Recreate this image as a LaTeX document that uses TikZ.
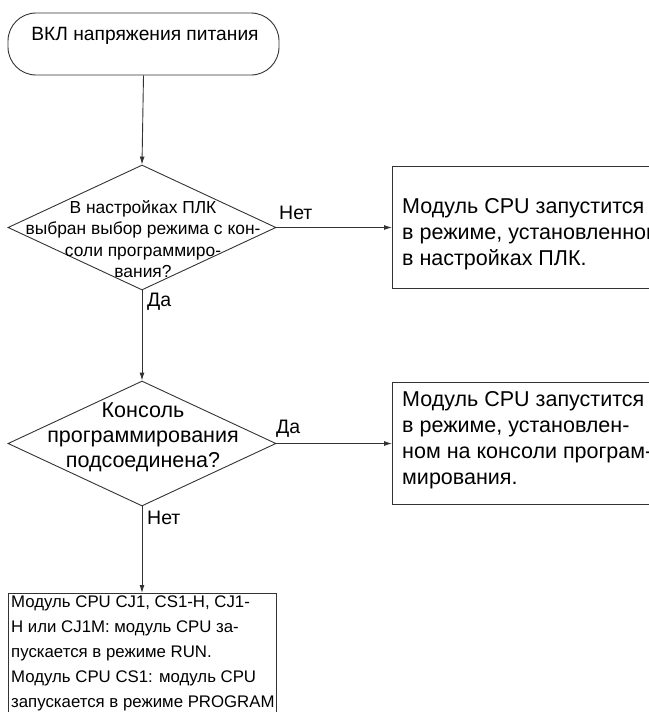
\documentclass[tikz,border=0pt]{standalone}
\usepackage{fontspec}
\setmainfont{Liberation Sans}
\usetikzlibrary{shapes.geometric,arrows.meta}
\tikzset{
  ln/.style={draw=black!80, line width=0.9pt},
  arr/.style={ln, -{Latex[length=8pt,width=5pt]}},
  term/.style={ln, rectangle, rounded corners=28pt, minimum width=271pt, minimum height=62pt, inner sep=0pt},
  decision/.style={ln, diamond, minimum width=268pt, minimum height=125pt, inner sep=0pt},
  boxr/.style={ln, rectangle, minimum width=270pt, inner sep=0pt, anchor=north west},
  txt/.style={inner sep=0pt, align=left},
  lbl/.style={inner sep=0pt, font=\fontsize{19.5}{22}\selectfont, anchor=west},
}
\begin{document}
\begin{tikzpicture}[x=1pt,y=-1pt]
\useasboundingbox (0,0) rectangle (648,712);
% start
\node[term] (s) at (143.5,44) {};
\node[txt, font=\fontsize{19.2}{22}\selectfont] (st) at (145,36) {ВКЛ напряжения питания};
% decision 1
\node[decision] (d1) at (142,227.5) {};
\node[txt, align=center, font=\fontsize{17.4}{21.5}\selectfont] (d1t) at (143,239) {В настройках ПЛК\\выбран выбор режима с кон-\\соли программиро-\\вания?};
% box 1
\node[boxr, minimum height=122pt] (b1) at (392,166) {};
\node[txt, anchor=west, font=\fontsize{21.5}{26}\selectfont] (b1t) at (402,234) {Модуль CPU запустится\\в режиме, установленном\\в настройках ПЛК.};
% decision 2
\node[decision] (d2) at (142,443.5) {};
\node[txt, align=center, font=\fontsize{21.5}{25}\selectfont] (d2t) at (143,437) {Консоль\\программирования\\подсоединена?};
% box 2
\node[boxr, minimum height=122pt] (b2) at (392,382) {};
\node[txt, anchor=west, font=\fontsize{21.5}{26}\selectfont] (b2t) at (402,440) {Модуль CPU запустится\\в режиме, установлен-\\ном на консоли програм-\\мирования.};
% bottom box
\node[ln, rectangle, minimum width=268pt, minimum height=125pt, inner sep=0pt, anchor=north west] (b3) at (8,593) {};
\node[txt, anchor=north west, font=\fontsize{16.8}{25}\selectfont] (b3t) at (11,596) {Модуль CPU CJ1, CS1-H, CJ1-\\H или CJ1M: модуль CPU за-\\пускается в режиме RUN.\\Модуль CPU CS1: модуль CPU\\запускается в режиме PROGRAM};
% connectors
\draw[arr] (s.south) -- (d1.north);
\draw[arr] (d1.east) -- (b1.west |- d1.east);
\draw[arr] (d1.south) -- (d2.north);
\draw[arr] (d2.east) -- (b2.west |- d2.east);
\draw[arr] (d2.south) -- (b3.north -| d2.south);
% labels
\node[lbl] (l1) at (279,213) {Нет};
\node[lbl] (l2) at (147,302) {Да};
\node[lbl] (l3) at (276,429) {Да};
\node[lbl] (l4) at (147,518) {Нет};
\end{tikzpicture}
\end{document}
